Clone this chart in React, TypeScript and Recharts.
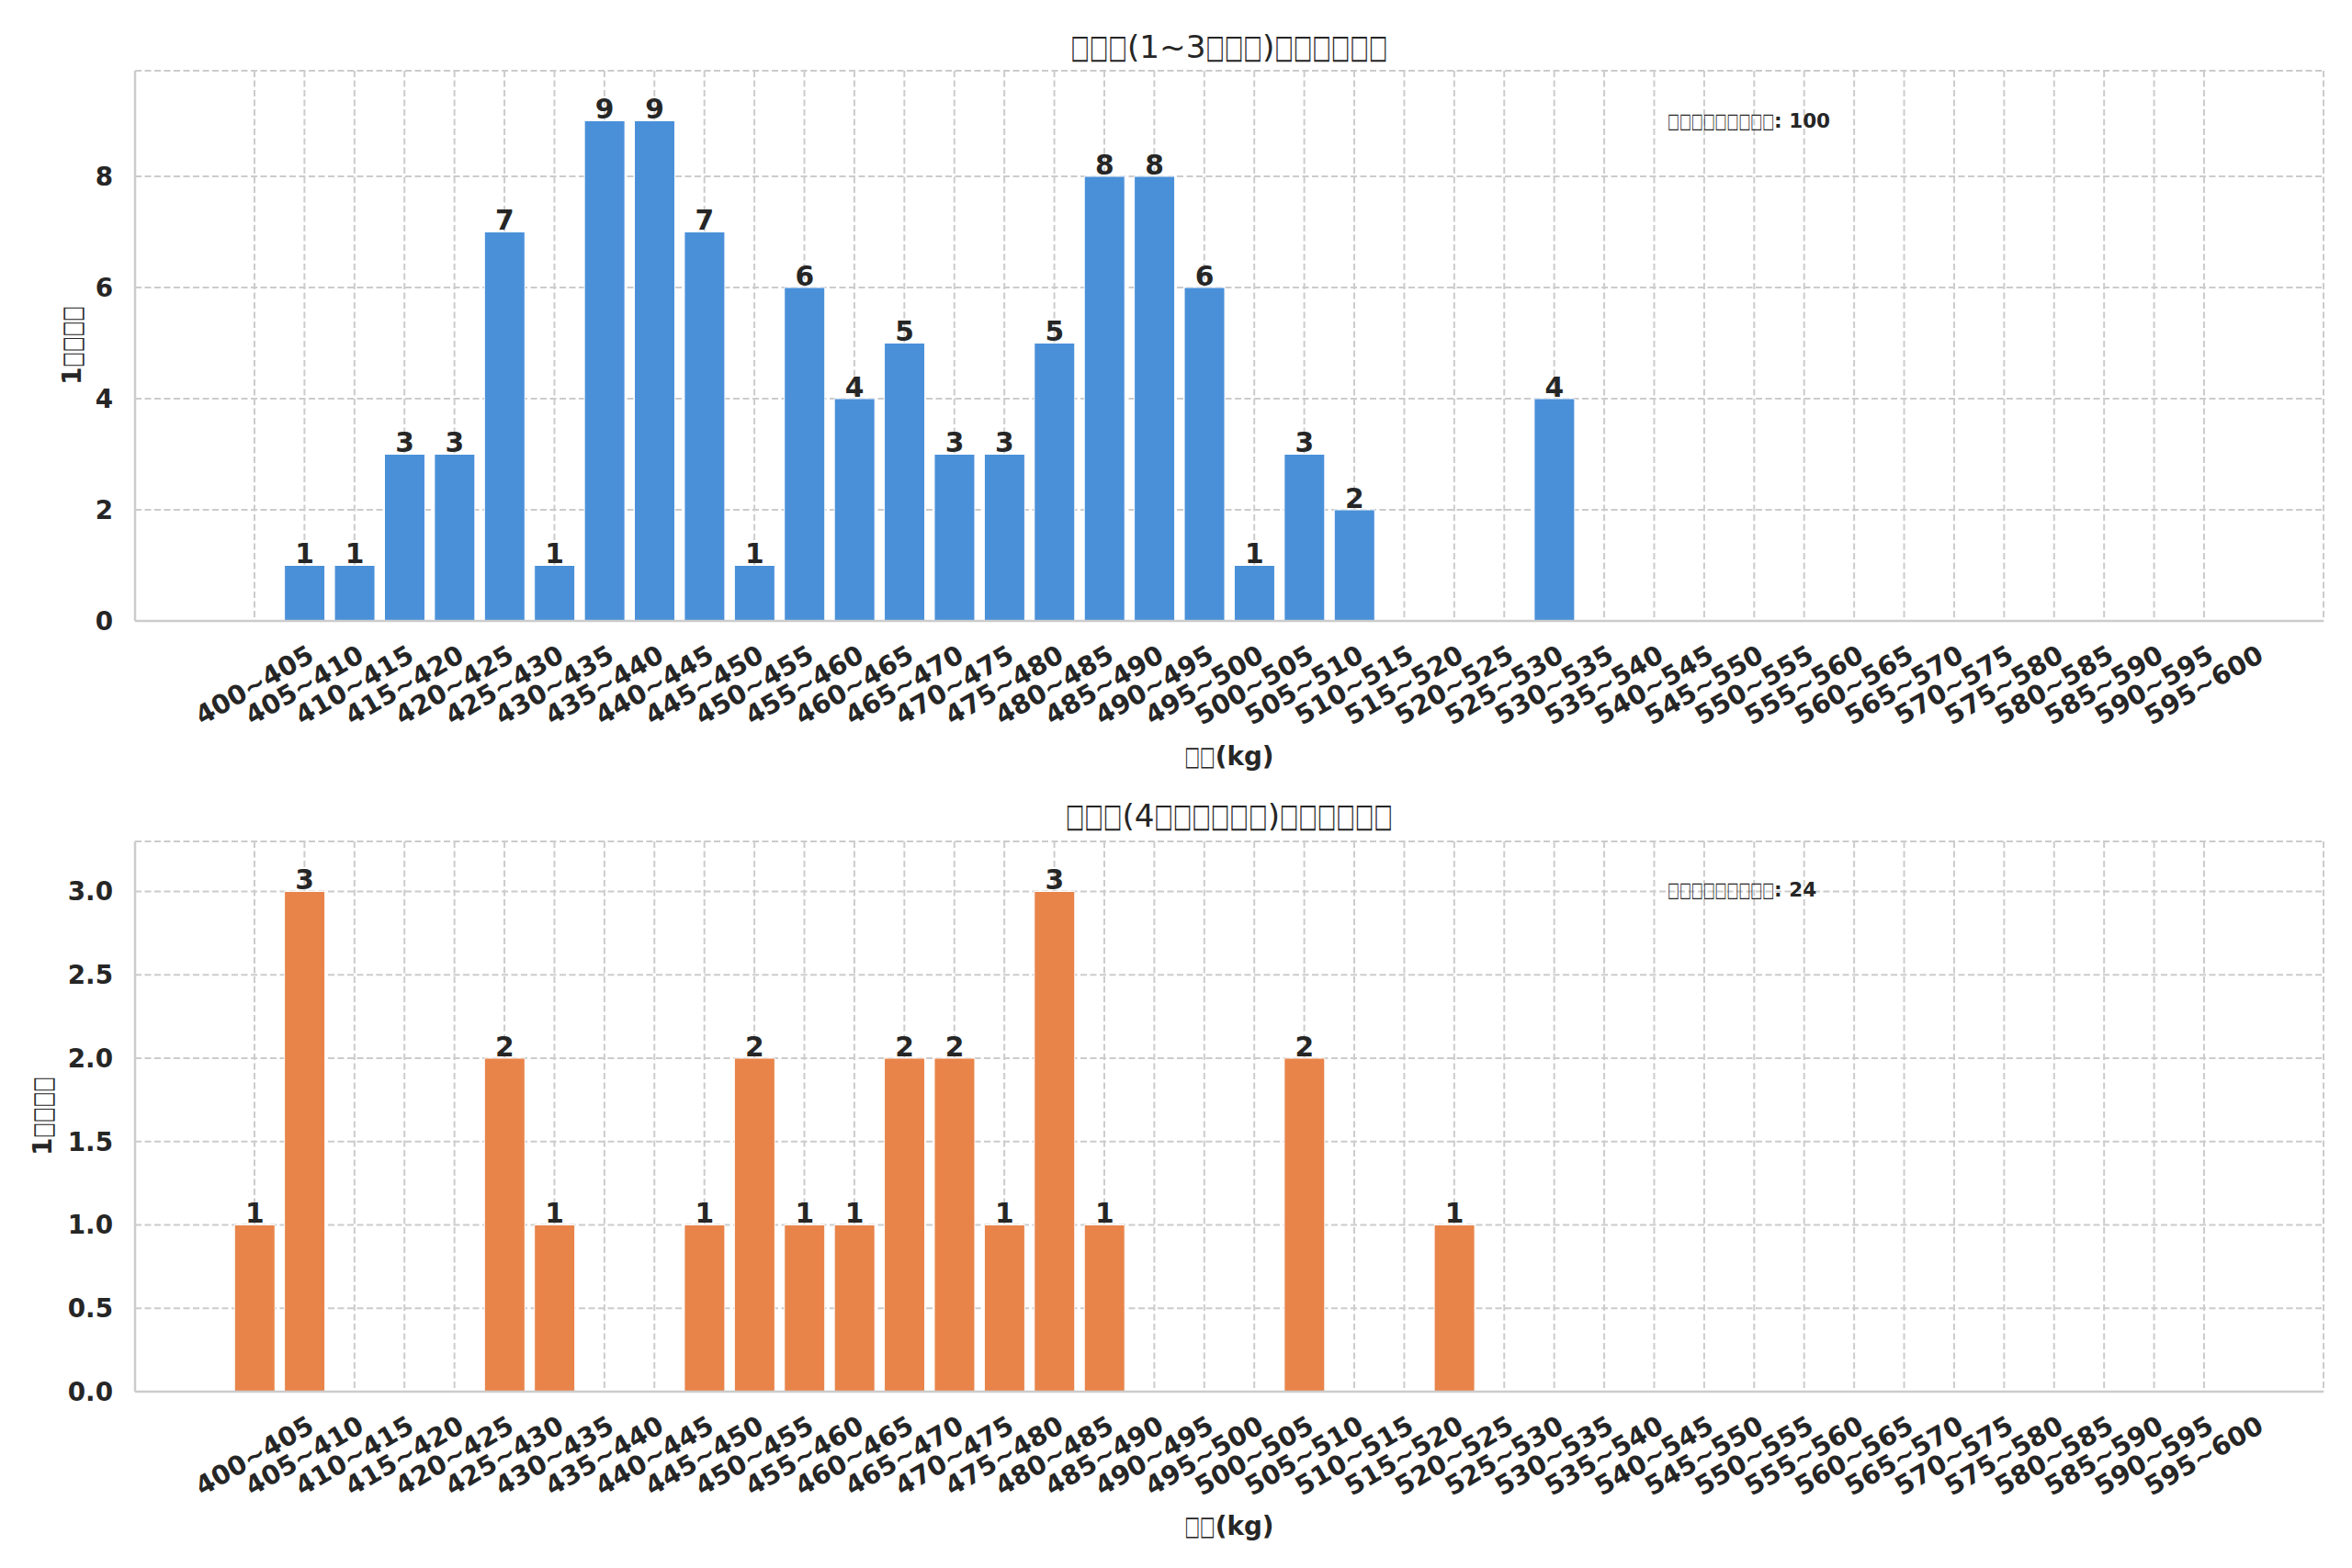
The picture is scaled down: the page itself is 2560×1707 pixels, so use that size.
import { BarChart, Bar, XAxis, YAxis, CartesianGrid, LabelList } from "recharts";

// weight classes (kg)
const RANGES = [
  "400~405", "405~410", "410~415", "415~420", "420~425", "425~430", "430~435", "435~440",
  "440~445", "445~450", "450~455", "455~460", "460~465", "465~470", "470~475", "475~480",
  "480~485", "485~490", "490~495", "495~500", "500~505", "505~510", "510~515", "515~520",
  "520~525", "525~530", "530~535", "535~540", "540~545", "545~550", "550~555", "555~560",
  "560~565", "565~570", "570~575", "575~580", "580~585", "585~590", "590~595", "595~600",
];

// counts per class, upper panel (1~3)
const COUNTS_UPPER = [
  0, 1, 1, 3, 3, 7, 1, 9, 9, 7, 1, 6, 4, 5, 3, 3, 5, 8, 8, 6,
  1, 3, 2, 0, 0, 0, 4, 0, 0, 0, 0, 0, 0, 0, 0, 0, 0, 0, 0, 0,
];

// counts per class, lower panel (4~)
const COUNTS_LOWER = [
  1, 3, 0, 0, 0, 2, 1, 0, 0, 1, 2, 1, 1, 2, 2, 1, 3, 1, 0, 0,
  0, 2, 0, 0, 1, 0, 0, 0, 0, 0, 0, 0, 0, 0, 0, 0, 0, 0, 0, 0,
];

const Y_TICKS_UPPER = [0, 2, 4, 6, 8];
const Y_TICKS_LOWER = [0, 0.5, 1, 1.5, 2, 2.5, 3];

// the source figure lost its CJK glyphs, so the labels only show boxes
const TITLE_UPPER = "□□□(1~3□□□)□□□□□□";
const TITLE_LOWER = "□□□(4□□□□□□)□□□□□□";
const X_LABEL = "□□(kg)";
const Y_LABEL = "1□□□□";
const TOTAL_LABEL = "□□□□□□□□□";

const FONT = "DejaVu Sans";
const INK = "#262626";
const SPINE = "#cccccc";

// DejaVu Sans advance widths (em) for the few characters used in the boxed labels
const EM_REGULAR: Record<string, number> = { "(": 0.39, ")": 0.39, "~": 0.838, ":": 0.337, " ": 0.318, k: 0.579, g: 0.635 };
const EM_BOLD: Record<string, number> = { "(": 0.457, ")": 0.457, "~": 0.838, ":": 0.4, " ": 0.348, k: 0.665, g: 0.716 };

function charEm(c: string, bold: boolean) {
  if (/[0-9]/.test(c)) return bold ? 0.696 : 0.636;
  const t = bold ? EM_BOLD : EM_REGULAR;
  return t[c] ?? 0.6;
}

function TofuText({ text, x, y, size, bold = false, anchor = "middle" }: {
  text: string; x: number; y: number; size: number; bold?: boolean; anchor?: "middle" | "start";
}) {
  const runs = text.match(/□+|[^□]+/g) ?? [];
  const widths = runs.map((r) =>
    r[0] === "□" ? r.length * 0.6 * size : [...r].reduce((s, c) => s + charEm(c, bold) * size, 0)
  );
  const total = widths.reduce((a, b) => a + b, 0);
  let cursor = anchor === "middle" ? x - total / 2 : x;
  return (
    <g>
      {runs.map((r, i) => {
        const left = cursor;
        cursor += widths[i];
        const box = r[0] === "□";
        return (
          <text
            key={i}
            x={left}
            y={y}
            textLength={widths[i]}
            lengthAdjust="spacingAndGlyphs"
            fontFamily={FONT}
            fontSize={box ? size * 1.05 : size}
            fontWeight={box ? "normal" : bold ? "bold" : "normal"}
            fill={INK}
          >
            {r}
          </text>
        );
      })}
    </g>
  );
}

function XTick({ x, y, payload }: any) {
  const cy = y + 70;
  return (
    <text
      x={x}
      y={cy}
      textAnchor="middle"
      dominantBaseline="central"
      transform={`rotate(-30 ${x} ${cy})`}
      fontFamily={FONT}
      fontSize={28.5}
      fontWeight="bold"
      fill={INK}
    >
      {payload.value}
    </text>
  );
}

function makeYTick(decimals: number) {
  return ({ x, y, payload }: any) => (
    <text
      x={x - 24}
      y={y}
      dy="0.36em"
      textAnchor="end"
      fontFamily={FONT}
      fontSize={27.8}
      fontWeight="bold"
      fill={INK}
    >
      {Number(payload.value).toFixed(decimals)}
    </text>
  );
}

function ValueLabel({ x, y, width, value }: any) {
  if (!value) return null;
  return (
    <text
      x={x + width / 2}
      y={y - 2}
      textAnchor="middle"
      fontFamily={FONT}
      fontSize={29.7}
      fontWeight="bold"
      fill={INK}
    >
      {value}
    </text>
  );
}

function Panel({ counts, color, yTicks, decimals, top, height, plotTop, plotBottom }: {
  counts: number[]; color: string; yTicks: number[]; decimals: number;
  top: number; height: number; plotTop: number; plotBottom: number;
}) {
  const data = RANGES.map((range, i) => ({ range, count: counts[i] }));
  const yMax = Math.max(...counts) * 1.1;
  const axisHeight = 150;
  const pad = { left: 102.8, right: 102.8 };
  return (
    <div style={{ position: "absolute", left: 0, top, width: 2560, height }}>
      <BarChart
        width={2560}
        height={height}
        data={data}
        barCategoryGap="10%"
        margin={{ top: plotTop, right: 31, left: 0, bottom: height - plotBottom - axisHeight }}
      >
        <CartesianGrid stroke={SPINE} strokeWidth={2} strokeDasharray="7 3.5" />
        <XAxis
          dataKey="range"
          interval={0}
          height={axisHeight}
          padding={pad}
          tickLine={false}
          tickSize={0}
          tickMargin={0}
          tick={<XTick />}
          axisLine={{ stroke: SPINE, strokeWidth: 2.5 }}
        />
        <XAxis
          xAxisId="frame"
          dataKey="range"
          orientation="top"
          height={0}
          padding={pad}
          tick={false}
          tickLine={false}
          axisLine={{ stroke: SPINE, strokeWidth: 2.5 }}
        />
        <YAxis
          width={147}
          domain={[0, yMax]}
          ticks={yTicks}
          allowDataOverflow
          tickLine={false}
          tickSize={0}
          tickMargin={0}
          tick={makeYTick(decimals)}
          axisLine={{ stroke: SPINE, strokeWidth: 2.5 }}
        />
        <YAxis
          yAxisId="frame"
          orientation="right"
          width={0}
          domain={[0, yMax]}
          tick={false}
          tickLine={false}
          axisLine={{ stroke: SPINE, strokeWidth: 2.5 }}
        />
        <Bar dataKey="count" fill={color} stroke="#ffffff" strokeWidth={1} isAnimationActive={false}>
          <LabelList dataKey="count" content={<ValueLabel />} />
        </Bar>
      </BarChart>
    </div>
  );
}

export default function App() {
  const totalUpper = COUNTS_UPPER.reduce((a, b) => a + b, 0);
  const totalLower = COUNTS_LOWER.reduce((a, b) => a + b, 0);
  return (
    <div style={{ position: "absolute", left: 0, top: 0, width: 2560, height: 1707, background: "#fff" }}>
      <Panel counts={COUNTS_UPPER} color="#4A90D9" yTicks={Y_TICKS_UPPER} decimals={0}
        top={0} height={853} plotTop={77} plotBottom={676} />
      <Panel counts={COUNTS_LOWER} color="#E8844A" yTicks={Y_TICKS_LOWER} decimals={1}
        top={853} height={854} plotTop={63} plotBottom={662} />

      {/* titles, axis labels and totals */}
      <svg width={2560} height={1707} style={{ position: "absolute", left: 0, top: 0, pointerEvents: "none" }}>
        <TofuText text={TITLE_UPPER} x={1338} y={63} size={34.2} />
        <TofuText text={X_LABEL} x={1338} y={833} size={27.8} bold />
        <g transform="translate(78 376) rotate(-90)">
          <TofuText text={Y_LABEL} x={0} y={10} size={27.8} bold />
        </g>
        <TofuText text={`${TOTAL_LABEL}: ${totalUpper}`} x={1815} y={139} size={21.5} bold anchor="start" />

        <TofuText text={TITLE_LOWER} x={1338} y={900} size={34.2} />
        <TofuText text={X_LABEL} x={1338} y={1671} size={27.8} bold />
        <g transform="translate(46 1215) rotate(-90)">
          <TofuText text={Y_LABEL} x={0} y={10} size={27.8} bold />
        </g>
        <TofuText text={`${TOTAL_LABEL}: ${totalLower}`} x={1815} y={976} size={21.5} bold anchor="start" />
      </svg>
    </div>
  );
}
